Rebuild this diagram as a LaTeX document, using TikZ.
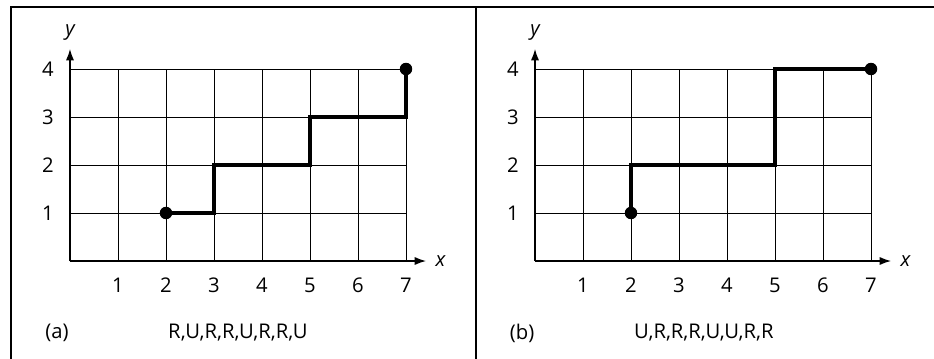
\documentclass[tikz,border=0pt]{standalone}
\usepackage{fontspec}
\setmainfont{Open Sans}
\usetikzlibrary{positioning, arrows.meta}

\begin{document}
\begin{tikzpicture}[x=1cm, y=1cm,
    gridline/.style={black, line width=0.5pt},
    axisline/.style={black, line width=0.9pt, -{Latex[length=2.4mm, width=1.7mm]}},
    walk/.style={black, line width=2pt, line join=miter},
    dot/.style={circle, fill=black, inner sep=0pt, minimum size=2.6mm},
    lbl/.style={font=\fontsize{12}{14}\selectfont, inner sep=1pt},
    framel/.style={black, line width=0.7pt}]
  \useasboundingbox (-1.458,-2.021) rectangle (18.0,5.4375);
  % panel frame
  \draw[framel] (-1.229,-2.1) -- (-1.229,5.29) -- (18.1,5.29);
  \draw[framel] (8.458,-2.1) -- (8.458,5.29);

  % panel (a)
  \begin{scope}
    \draw[gridline] (0,0) grid (7,4);
    \coordinate (ao) at (0,0);
    \coordinate (axtip) at (7.42,0);
    \coordinate (aytip) at (0,4.42);
    \draw[axisline] (ao) -- (axtip);
    \draw[axisline] (ao) -- (aytip);
    \node[lbl, font=\fontsize{12}{14}\selectfont\itshape] (axl) at (7.72,0) {x};
    \node[lbl, font=\fontsize{12}{14}\selectfont\itshape] (ayl) at (0,4.77) {y};
    \foreach \i in {1,...,7}
      \node[lbl] (ax\i) at (\i,-0.5) {\i};
    \foreach \j in {1,...,4}
      \node[lbl] (ay\j) at (-0.46,\j) {\j};
    \coordinate (as) at (2,1);
    \coordinate (ae) at (7,4);
    \draw[walk] (as) -- (3,1) -- (3,2) -- (5,2) -- (5,3) -- (7,3) -- (ae);
    \node[dot] (astart) at (as) {};
    \node[dot] (aend) at (ae) {};
    \node[lbl] (atag) at (-0.27,-1.5) {(a)};
    \node[lbl] (aseq) at (3.5,-1.5) {R,U,R,R,U,R,R,U};
  \end{scope}

  % panel (b)
  \begin{scope}[xshift=9.6875cm]
    \draw[gridline] (0,0) grid (7,4);
    \coordinate (bo) at (0,0);
    \coordinate (bxtip) at (7.42,0);
    \coordinate (bytip) at (0,4.42);
    \draw[axisline] (bo) -- (bxtip);
    \draw[axisline] (bo) -- (bytip);
    \node[lbl, font=\fontsize{12}{14}\selectfont\itshape] (bxl) at (7.72,0) {x};
    \node[lbl, font=\fontsize{12}{14}\selectfont\itshape] (byl) at (0,4.77) {y};
    \foreach \i in {1,...,7}
      \node[lbl] (bx\i) at (\i,-0.5) {\i};
    \foreach \j in {1,...,4}
      \node[lbl] (by\j) at (-0.46,\j) {\j};
    \coordinate (bs) at (2,1);
    \coordinate (be) at (7,4);
    \draw[walk] (bs) -- (2,2) -- (5,2) -- (5,4) -- (be);
    \node[dot] (bstart) at (bs) {};
    \node[dot] (bend) at (be) {};
    \node[lbl] (btag) at (-0.27,-1.5) {(b)};
    \node[lbl] (bseq) at (3.52,-1.5) {U,R,R,R,U,U,R,R};
  \end{scope}
\end{tikzpicture}
\end{document}
